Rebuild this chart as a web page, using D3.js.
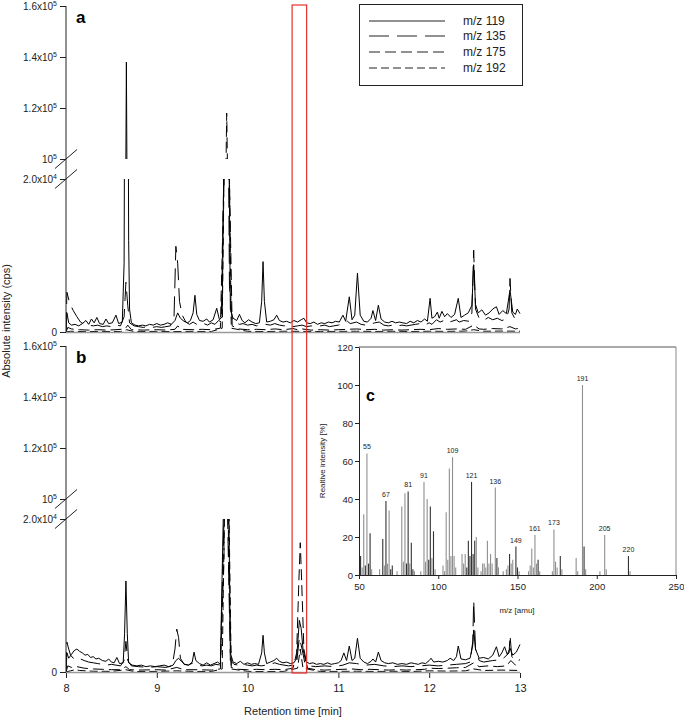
<!DOCTYPE html>
<html><head><meta charset="utf-8">
<script src="https://cdn.jsdelivr.net/npm/d3@7"></script>
<style>body{margin:0;background:#fff} svg{font-family:"Liberation Sans",Arial,sans-serif}</style>
</head><body><svg id="chart" width="684" height="720"></svg>
<script>
// ---------------- data ----------------
const seriesNames = ["m/z 119","m/z 135","m/z 175","m/z 192"];
const timeTicks = [8,9,10,11,12,13];
const yTickValues = [0,20000,100000,120000,140000,160000];
const yTickLabels = [["0",""],["2.0x10","4"],["10","5"],["1.2x10","5"],["1.4x10","5"],["1.6x10","5"]];
const highlight = [10.49,10.65];

const a119 = [[8.00,0],[8.01,2500],[8.03,1200],[8.06,900],[8.10,1000],[8.14,800],[8.18,1100],[8.22,1500],[8.25,1000],[8.28,1700],[8.31,1200],[8.34,1900],[8.37,1100],[8.41,1000],[8.44,1700],[8.47,1100],[8.51,1200],[8.55,2200],[8.58,1100],[8.62,1300],[8.64,9000],[8.655,70000],[8.665,138000],[8.675,70000],[8.69,12000],[8.70,3000],[8.72,1200],[8.76,900],[8.80,800],[8.84,900],[8.88,800],[8.92,1000],[8.96,900],[9.00,1100],[9.04,900],[9.08,1000],[9.12,1200],[9.16,1000],[9.20,1500],[9.23,2500],[9.26,1800],[9.30,1400],[9.34,1200],[9.37,1500],[9.40,2500],[9.42,4800],[9.44,2300],[9.47,1500],[9.51,1400],[9.55,1700],[9.58,1300],[9.62,1600],[9.66,3100],[9.69,1600],[9.72,2000],[9.745,30000],[9.76,80000],[9.775,80000],[9.79,30000],[9.81,3000],[9.84,1800],[9.88,1500],[9.91,2300],[9.94,1500],[9.97,1200],[10.01,1600],[10.05,1300],[10.09,1100],[10.13,1200],[10.155,4000],[10.17,9200],[10.185,4000],[10.21,1300],[10.25,1400],[10.29,1600],[10.32,2200],[10.35,1500],[10.39,1300],[10.43,1400],[10.47,1200],[10.51,1500],[10.55,1300],[10.59,1600],[10.62,1800],[10.65,1200],[10.69,1100],[10.73,1300],[10.77,1000],[10.81,1200],[10.85,1100],[10.89,1300],[10.93,1200],[10.97,1400],[11.01,1300],[11.05,2200],[11.08,1400],[11.12,4600],[11.15,1600],[11.18,2200],[11.21,7700],[11.24,2200],[11.28,1400],[11.32,1300],[11.36,1800],[11.38,2800],[11.41,1500],[11.44,3500],[11.47,1700],[11.51,1300],[11.55,1200],[11.59,1400],[11.63,1200],[11.67,1300],[11.71,1200],[11.75,1100],[11.79,1400],[11.83,1200],[11.87,1500],[11.91,1300],[11.95,1700],[11.98,1400],[12.01,4400],[12.03,1800],[12.06,2000],[12.09,2600],[12.11,1800],[12.14,2700],[12.17,2000],[12.20,2400],[12.24,1900],[12.28,2300],[12.32,4400],[12.35,1900],[12.39,2200],[12.43,2500],[12.47,3500],[12.49,8800],[12.51,3600],[12.54,2500],[12.58,2900],[12.62,2200],[12.66,2500],[12.70,3000],[12.74,3300],[12.77,2300],[12.81,2800],[12.85,2400],[12.89,5500],[12.92,2600],[12.95,2300],[12.97,3000],[13.00,2400]];
const a135 = [[8.00,0],[8.01,5200],[8.04,3800],[8.08,2800],[8.12,2000],[8.16,1300],[8.20,1000],[8.25,900],[8.30,800],[8.35,900],[8.40,700],[8.45,800],[8.50,700],[8.55,900],[8.60,800],[8.64,2000],[8.66,6500],[8.68,3500],[8.70,1200],[8.75,800],[8.80,700],[8.85,600],[8.90,700],[8.95,600],[9.00,700],[9.05,600],[9.10,700],[9.15,800],[9.19,2000],[9.21,11200],[9.23,9000],[9.25,4000],[9.28,2200],[9.32,1300],[9.36,1000],[9.40,1300],[9.44,1000],[9.48,900],[9.52,1100],[9.56,900],[9.60,1200],[9.64,1000],[9.68,1500],[9.71,1300],[9.745,25000],[9.76,60000],[9.78,40000],[9.80,6000],[9.83,1500],[9.87,1200],[9.91,1000],[9.95,1100],[10.00,900],[10.05,1000],[10.10,800],[10.15,900],[10.20,1000],[10.25,900],[10.30,1100],[10.35,900],[10.40,800],[10.45,900],[10.50,700],[10.55,800],[10.60,900],[10.65,700],[10.70,800],[10.75,700],[10.80,800],[10.85,900],[10.90,700],[10.95,800],[11.00,900],[11.05,1100],[11.10,1400],[11.13,1100],[11.20,1300],[11.25,1000],[11.30,900],[11.35,1000],[11.40,1200],[11.45,1300],[11.50,900],[11.55,800],[11.60,900],[11.65,800],[11.70,900],[11.75,800],[11.80,900],[11.85,1000],[11.90,1100],[11.95,900],[12.00,1200],[12.03,1000],[12.08,1600],[12.12,1300],[12.16,1500],[12.20,1200],[12.25,1400],[12.30,1600],[12.33,1300],[12.38,1500],[12.44,1400],[12.47,2500],[12.49,10700],[12.51,3000],[12.55,1800],[12.60,1500],[12.65,1900],[12.70,1600],[12.75,1800],[12.80,1500],[12.85,1700],[12.88,3000],[12.89,7000],[12.91,2500],[12.95,1600],[13.00,1800]];
const a175 = [[8.00,0],[8.02,600],[8.06,400],[8.15,300],[8.25,250],[8.35,300],[8.45,250],[8.55,300],[8.65,400],[8.68,900],[8.72,300],[8.85,250],[9.00,300],[9.10,250],[9.20,350],[9.23,800],[9.27,350],[9.40,300],[9.50,350],[9.60,300],[9.70,500],[9.74,20000],[9.755,80000],[9.77,118000],[9.785,80000],[9.80,20000],[9.83,800],[9.90,400],[10.00,300],[10.10,350],[10.20,300],[10.30,400],[10.40,300],[10.50,450],[10.55,300],[10.60,400],[10.70,250],[10.80,300],[10.90,250],[11.00,300],[11.10,350],[11.20,400],[11.30,300],[11.40,350],[11.50,250],[11.60,300],[11.70,250],[11.80,300],[11.90,350],[12.00,300],[12.10,450],[12.20,350],[12.30,400],[12.40,350],[12.49,900],[12.55,400],[12.60,350],[12.70,450],[12.80,400],[12.89,700],[12.95,400],[13.00,500]];
const a192 = [[8.00,0],[8.05,100],[8.20,50],[8.40,80],[8.60,50],[8.67,300],[8.75,50],[9.00,80],[9.20,60],[9.40,80],[9.60,60],[9.72,500],[9.75,30000],[9.77,60000],[9.79,30000],[9.82,500],[10.00,80],[10.20,60],[10.40,100],[10.60,80],[10.80,60],[11.00,80],[11.20,100],[11.40,70],[11.60,90],[11.80,60],[12.00,100],[12.20,80],[12.40,120],[12.49,300],[12.60,100],[12.80,120],[13.00,100]];

const b119 = [[8.00,0],[8.01,2500],[8.03,1800],[8.06,2300],[8.09,2800],[8.12,3000],[8.15,2700],[8.18,2500],[8.21,2200],[8.24,2300],[8.27,1900],[8.30,2000],[8.33,1700],[8.36,1800],[8.40,1500],[8.44,1400],[8.47,1700],[8.50,1300],[8.53,1200],[8.56,1900],[8.59,1100],[8.63,1200],[8.645,5000],[8.66,11900],[8.675,5000],[8.69,1200],[8.73,900],[8.78,800],[8.83,900],[8.88,700],[8.93,800],[8.98,700],[9.03,800],[9.08,900],[9.13,700],[9.18,900],[9.21,1500],[9.24,1800],[9.27,1400],[9.31,1000],[9.35,900],[9.39,1300],[9.41,2600],[9.43,1500],[9.47,1100],[9.51,900],[9.55,1200],[9.59,900],[9.63,1100],[9.67,1300],[9.70,1000],[9.74,25000],[9.755,60000],[9.775,60000],[9.79,25000],[9.81,2500],[9.84,1300],[9.88,1100],[9.92,1400],[9.96,1000],[10.00,1200],[10.04,1000],[10.08,1100],[10.12,1000],[10.155,2500],[10.17,4800],[10.185,2500],[10.21,1100],[10.25,1300],[10.29,1500],[10.32,1800],[10.35,1400],[10.39,1200],[10.43,1300],[10.47,1100],[10.51,1200],[10.54,1800],[10.57,6750],[10.59,5700],[10.61,3000],[10.64,1400],[10.68,1100],[10.72,1200],[10.76,1000],[10.80,1100],[10.84,1000],[10.88,1200],[10.92,1000],[10.96,1100],[11.00,1200],[11.03,1500],[11.06,2500],[11.09,1500],[11.12,3400],[11.15,1500],[11.18,1800],[11.21,4400],[11.24,1800],[11.28,1300],[11.32,1100],[11.36,1400],[11.38,1700],[11.41,1300],[11.44,2600],[11.47,1500],[11.51,1200],[11.55,1100],[11.60,1200],[11.65,1000],[11.70,1100],[11.75,1000],[11.80,1200],[11.84,1100],[11.88,1000],[11.92,1200],[11.96,1100],[12.00,1500],[12.02,1800],[12.05,1300],[12.10,1400],[12.15,1300],[12.20,1500],[12.23,1800],[12.27,1500],[12.30,2000],[12.32,3400],[12.35,1700],[12.40,1600],[12.45,1800],[12.48,3500],[12.49,5500],[12.51,3000],[12.55,1800],[12.60,1900],[12.65,1700],[12.70,2200],[12.74,3300],[12.77,2000],[12.80,2500],[12.83,3300],[12.86,2300],[12.89,3100],[12.92,2200],[12.96,2600],[13.00,3600]];
const b135 = [[8.00,0],[8.01,3900],[8.03,3000],[8.05,2200],[8.08,1800],[8.12,2000],[8.16,1700],[8.20,1500],[8.25,1300],[8.30,1200],[8.35,1100],[8.40,1000],[8.45,900],[8.50,1000],[8.55,900],[8.60,800],[8.64,1500],[8.66,4000],[8.68,1500],[8.72,800],[8.80,700],[8.90,600],[9.00,700],[9.10,600],[9.17,800],[9.20,3000],[9.22,5600],[9.24,4500],[9.26,1800],[9.30,1000],[9.35,900],[9.40,1200],[9.45,900],[9.50,800],[9.55,900],[9.60,800],[9.65,1000],[9.70,900],[9.74,20000],[9.76,50000],[9.78,20000],[9.81,1500],[9.85,1000],[9.90,900],[9.95,1000],[10.00,900],[10.05,800],[10.10,900],[10.15,800],[10.20,900],[10.25,1000],[10.30,1200],[10.35,1000],[10.40,900],[10.45,800],[10.50,900],[10.54,1200],[10.57,4500],[10.60,3000],[10.63,1200],[10.68,800],[10.75,700],[10.85,800],[10.95,700],[11.05,900],[11.12,1200],[11.20,1100],[11.30,900],[11.40,1000],[11.50,800],[11.60,700],[11.70,800],[11.80,700],[11.90,800],[12.00,900],[12.10,800],[12.20,900],[12.30,1000],[12.40,1100],[12.45,1300],[12.48,4000],[12.49,9350],[12.51,3000],[12.55,1500],[12.60,1300],[12.70,1500],[12.80,1600],[12.88,2500],[12.89,4800],[12.91,2000],[12.95,1400],[13.00,1600]];
const b175 = [[8.00,0],[8.02,800],[8.06,600],[8.12,700],[8.20,500],[8.30,400],[8.40,350],[8.50,300],[8.60,300],[8.66,700],[8.70,300],[8.80,250],[9.00,300],[9.10,250],[9.22,600],[9.30,300],[9.45,300],[9.60,250],[9.70,400],[9.74,15000],[9.755,50000],[9.775,50000],[9.79,15000],[9.82,600],[9.90,350],[10.00,300],[10.10,350],[10.20,300],[10.30,350],[10.40,300],[10.50,500],[10.54,2500],[10.565,12000],[10.58,16900],[10.595,12000],[10.62,3000],[10.66,500],[10.75,300],[10.85,250],[10.95,300],[11.05,350],[11.15,400],[11.25,300],[11.35,350],[11.45,300],[11.55,250],[11.65,300],[11.75,250],[11.85,300],[11.95,350],[12.00,500],[12.10,450],[12.20,500],[12.30,550],[12.40,600],[12.49,1200],[12.55,700],[12.65,800],[12.75,700],[12.85,800],[12.90,1500],[12.95,900],[13.00,800]];
const b192 = [[8.00,0],[8.05,150],[8.10,300],[8.15,200],[8.30,100],[8.50,80],[8.66,300],[8.75,60],[9.00,80],[9.22,150],[9.40,80],[9.60,60],[9.72,400],[9.75,25000],[9.77,45000],[9.79,25000],[9.82,400],[10.00,80],[10.20,60],[10.40,80],[10.55,500],[10.58,3000],[10.61,500],[10.80,60],[11.00,80],[11.20,100],[11.40,70],[11.60,90],[11.80,60],[12.00,150],[12.20,120],[12.40,150],[12.49,400],[12.60,200],[12.80,250],[13.00,200]];

// mass spectrum (inset c)
const specMz    = [51,52,53,54,55,56,57,58,63,65,66,67,68,69,70,71,74,77,78,79,80,81,82,83,84,85,89,91,92,93,94,95,96,97,98,103,104,105,106,107,108,109,110,111,115,116,117,118,119,120,121,122,123,124,125,127,128,129,130,131,132,133,134,136,137,138,141,143,144,145,146,147,149,150,151,157,158,159,160,161,162,163,164,172,173,174,175,177,178,187,188,191,192,193,202,205,206,220,221];
const specInt   = [10,4,32,5,64,6,22,3,3,19,5,39,6,34,3,5,2,36,7,43,6,44,6,17,3,2,2,49,7,40,8,36,9,23,3,5,2,33,8,56,10,62,10,4,11,6,11,4,18,10,49,11,18,20,4,2,6,6,4,18,6,11,6,46,9,4,2,3,5,11,6,8,15,4,2,2,5,14,4,21,6,8,2,2,24,7,4,10,3,9,2,100,15,3,2,21,3,10,2];
const specShade = [1,0,0,1,0,1,1,0,0,1,0,1,0,0,1,1,0,0,0,0,1,1,0,1,1,0,0,0,0,0,1,1,0,1,0,0,0,0,0,0,0,0,0,0,0,0,0,1,1,1,1,1,1,0,0,0,0,0,0,0,0,0,0,0,1,0,0,0,0,1,0,0,1,1,0,0,0,0,0,0,0,1,0,0,0,0,0,1,0,0,0,0,1,0,0,0,0,1,0];
const specLabels = [55,67,81,91,109,121,136,149,161,173,191,205,220];
const specXTicks = [50,100,150,200,250];
const specYTicks = [0,20,40,60,80,100,120];

// ---------------- drawing ----------------
const svg = d3.select("#chart");
const dashes = [null,"20,8","11,5","8,4"];
const x = d3.scaleLinear().domain([8,13]).range([66,520]);

function drawPanel(off, data, letter, id){
  const yLow = d3.scaleLinear().domain([0,20000]).range([332+off,179+off]);
  const yHigh = d3.scaleLinear().domain([100000,160000]).range([159+off,6+off]);
  const defs = svg.append("defs");
  defs.append("clipPath").attr("id","low"+id).append("rect")
    .attr("x",66).attr("y",179+off).attr("width",456).attr("height",155);
  defs.append("clipPath").attr("id","high"+id).append("rect")
    .attr("x",66).attr("y",5+off).attr("width",456).attr("height",154);
  const g = svg.append("g");
  [[yLow,"low"],[yHigh,"high"]].forEach(([ys,nm])=>{
    const line = d3.line().x(d=>x(d[0])).y(d=>ys(d[1]));
    const gg = g.append("g").attr("clip-path",`url(#${nm}${id})`);
    data.forEach((s,i)=>{
      gg.append("path").attr("d",line(s)).attr("fill","none")
        .attr("stroke","#000").attr("stroke-width",1)
        .attr("stroke-dasharray",dashes[i]);
    });
  });
  const lowVals = yTickValues.filter(v=>v<=20000), highVals = yTickValues.filter(v=>v>=100000);
  [[yLow,lowVals],[yHigh,highVals]].forEach(([ys,vals])=>{
    const ax = g.append("g").attr("transform","translate(66,0)")
      .call(d3.axisLeft(ys).tickValues(vals).tickSize(6).tickSizeOuter(0).tickPadding(3));
    ax.select(".domain").remove();
    ax.selectAll(".tick line").attr("stroke","#222");
    ax.selectAll(".tick text").each(function(d){
      const lab = yTickLabels[yTickValues.indexOf(d)];
      const t = d3.select(this).text(null).attr("font-size",10).attr("fill","#222")
        .attr("font-family","Liberation Sans, Arial, sans-serif");
      t.append("tspan").text(lab[0]);
      if(lab[1]) t.append("tspan").attr("dy",-4).attr("font-size",7).text(lab[1]);
    });
  });
  g.append("line").attr("x1",66).attr("x2",66).attr("y1",6+off).attr("y2",332+off)
    .attr("stroke","#222").attr("stroke-width",1);
  [yHigh(100000), yLow(20000)].forEach(yy=>{
    g.append("line").attr("x1",55).attr("y1",yy+9.5).attr("x2",77).attr("y2",yy-9.5)
      .attr("stroke","#222").attr("stroke-width",1);
  });
  g.append("line").attr("x1",66).attr("x2",520).attr("y1",332+off+0.5).attr("y2",332+off+0.5)
    .attr("stroke","#9a9a9a").attr("stroke-width",1.6);
  g.append("text").attr("x",76).attr("y",23+off).attr("font-size",17)
    .attr("font-weight","bold").text(letter);
  return g;
}

drawPanel(0,[a119,a135,a175,a192],"a","A");
drawPanel(340,[b119,b135,b175,b192],"b","B");

const xa = svg.append("g").attr("transform","translate(0,673)")
  .call(d3.axisBottom(x).tickValues(timeTicks).tickFormat(d3.format("d")).tickSize(5).tickSizeOuter(0).tickPadding(6));
xa.select(".domain").remove();
xa.selectAll(".tick line").attr("stroke","#222");
xa.selectAll(".tick text").attr("font-size",11).attr("fill","#222")
  .attr("font-family","Liberation Sans, Arial, sans-serif");

svg.append("text").attr("x",293).attr("y",715).attr("text-anchor","middle")
  .attr("font-size",11).attr("fill","#222").text("Retention time [min]");
svg.append("text").attr("transform","translate(10,321) rotate(-90)").attr("text-anchor","middle")
  .attr("font-size",11).attr("fill","#222").text("Absolute intensity (cps)");

svg.append("rect").attr("x",x(highlight[0])).attr("y",5)
  .attr("width",x(highlight[1])-x(highlight[0])).attr("height",668)
  .attr("fill","none").attr("stroke","#e8302c").attr("stroke-width",1.2);

const lg = svg.append("g");
lg.append("rect").attr("x",359.5).attr("y",4.5).attr("width",163).attr("height",81)
  .attr("fill","#fff").attr("stroke","#222").attr("stroke-width",1);
const legY = [21,36,52,68];
seriesNames.forEach((n,i)=>{
  lg.append("line").attr("x1",369).attr("x2",445).attr("y1",legY[i]).attr("y2",legY[i])
    .attr("stroke","#222").attr("stroke-width",1).attr("stroke-dasharray",dashes[i]);
  lg.append("text").attr("x",463).attr("y",legY[i]+4).attr("font-size",12).attr("fill","#222").text(n);
});

const xm = d3.scaleLinear().domain([50,250]).range([359,676]);
const ym = d3.scaleLinear().domain([0,120]).range([575,347]);
const gc = svg.append("g");
gc.append("rect").attr("x",359).attr("y",347).attr("width",317).attr("height",228).attr("fill","#fff");
gc.append("line").attr("x1",359).attr("x2",676).attr("y1",347).attr("y2",347).attr("stroke","#555");
gc.append("line").attr("x1",676).attr("x2",676).attr("y1",347).attr("y2",575).attr("stroke","#888");
specMz.forEach((m,i)=>{
  gc.append("line").attr("x1",xm(m)).attr("x2",xm(m)).attr("y1",ym(0)).attr("y2",ym(specInt[i]))
    .attr("stroke",specShade[i]?"#333":"#8f8f8f").attr("stroke-width",1.1);
});
specLabels.forEach(m=>{
  const v = specInt[specMz.indexOf(m)];
  gc.append("text").attr("x",xm(m)).attr("y",ym(v)-4).attr("text-anchor","middle")
    .attr("font-size",7).attr("fill","#222").text(m);
});
const cy = gc.append("g").attr("transform","translate(359,0)")
  .call(d3.axisLeft(ym).tickValues(specYTicks).tickSize(4).tickSizeOuter(0).tickPadding(2));
const cx = gc.append("g").attr("transform","translate(0,575)")
  .call(d3.axisBottom(xm).tickValues(specXTicks).tickSize(4).tickSizeOuter(0).tickPadding(4));
[cy,cx].forEach(a=>{
  a.select(".domain").attr("stroke","#222");
  a.selectAll(".tick line").attr("stroke","#222");
  a.selectAll(".tick text").attr("font-size",9.5).attr("fill","#222")
    .attr("font-family","Liberation Sans, Arial, sans-serif");
});
gc.append("text").attr("x",517).attr("y",613).attr("text-anchor","middle")
  .attr("font-size",8).attr("fill","#222").text("m/z [amu]");
gc.append("text").attr("transform","translate(325,461) rotate(-90)").attr("text-anchor","middle")
  .attr("font-size",8).attr("fill","#222").text("Realtive intensity [%]");
gc.append("text").attr("x",366).attr("y",401).attr("font-size",16)
  .attr("font-weight","bold").text("c");
</script></body></html>
